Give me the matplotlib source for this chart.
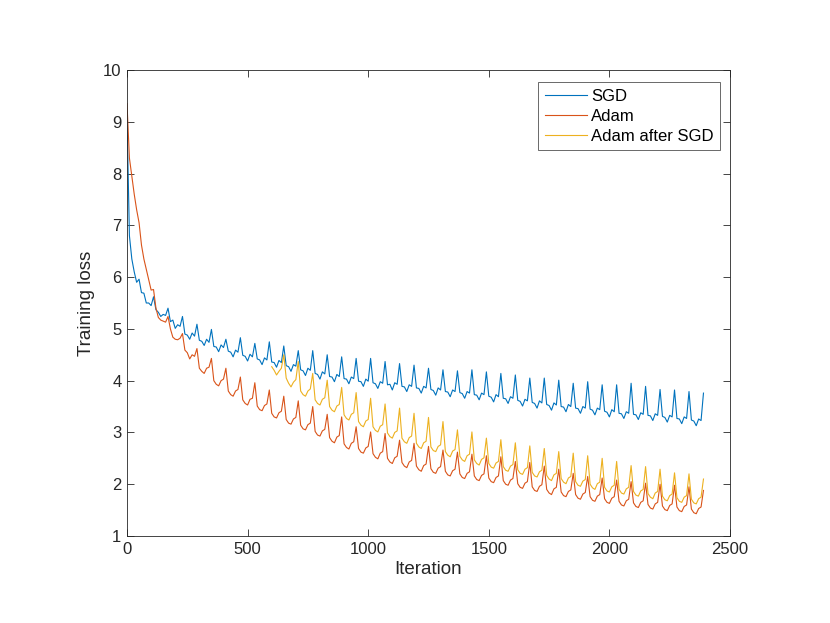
import matplotlib
matplotlib.use("Agg")
import matplotlib.pyplot as plt
import numpy as np

plt.rcParams['font.family'] = ['Liberation Sans', 'DejaVu Sans']

# iterations: one point every 10 iterations, 0..2390
iterations = list(range(0, 2400, 10))

sgd_loss = [
    9.10, 6.80, 6.35, 6.10, 5.90, 5.96,
    5.70, 5.69, 5.50, 5.50, 5.45, 5.62,
    5.37, 5.32, 5.24, 5.28, 5.26, 5.40,
    5.14, 5.17, 5.01, 5.08, 5.05, 5.24,
    4.90, 4.88, 4.80, 4.92, 4.86, 5.09,
    4.78, 4.76, 4.68, 4.80, 4.74, 4.99,
    4.66, 4.65, 4.56, 4.69, 4.64, 4.80,
    4.57, 4.55, 4.46, 4.59, 4.55, 4.83,
    4.49, 4.47, 4.38, 4.51, 4.46, 4.72,
    4.42, 4.40, 4.31, 4.44, 4.40, 4.75,
    4.36, 4.35, 4.26, 4.39, 4.35, 4.67,
    4.29, 4.27, 4.18, 4.31, 4.28, 4.58,
    4.21, 4.19, 4.10, 4.24, 4.20, 4.58,
    4.14, 4.12, 4.03, 4.17, 4.13, 4.50,
    4.08, 4.07, 3.98, 4.12, 4.08, 4.46,
    4.04, 4.03, 3.94, 4.07, 4.04, 4.43,
    3.99, 3.98, 3.89, 4.03, 3.99, 4.43,
    3.96, 3.94, 3.85, 3.98, 3.95, 4.37,
    3.92, 3.93, 3.82, 3.96, 3.93, 4.33,
    3.89, 3.88, 3.79, 3.92, 3.89, 4.30,
    3.86, 3.85, 3.76, 3.89, 3.86, 4.24,
    3.83, 3.81, 3.72, 3.86, 3.82, 4.21,
    3.79, 3.78, 3.69, 3.82, 3.79, 4.19,
    3.77, 3.75, 3.66, 3.79, 3.76, 4.21,
    3.73, 3.72, 3.63, 3.76, 3.73, 4.17,
    3.70, 3.68, 3.59, 3.73, 3.69, 4.14,
    3.66, 3.65, 3.56, 3.69, 3.66, 4.11,
    3.62, 3.60, 3.51, 3.64, 3.61, 4.05,
    3.58, 3.56, 3.47, 3.61, 3.57, 4.05,
    3.54, 3.52, 3.43, 3.57, 3.53, 4.01,
    3.50, 3.49, 3.40, 3.54, 3.50, 3.95,
    3.47, 3.46, 3.37, 3.50, 3.47, 3.98,
    3.45, 3.43, 3.34, 3.47, 3.44, 3.92,
    3.41, 3.39, 3.30, 3.44, 3.40, 3.92,
    3.37, 3.36, 3.27, 3.40, 3.37, 3.95,
    3.35, 3.34, 3.25, 3.38, 3.35, 3.89,
    3.33, 3.32, 3.23, 3.36, 3.33, 3.83,
    3.31, 3.29, 3.20, 3.33, 3.30, 3.82,
    3.27, 3.26, 3.17, 3.30, 3.27, 3.79,
    3.24, 3.22, 3.13, 3.26, 3.23, 3.76,
]

adam_loss = [
    9.35, 8.30, 7.95, 7.60, 7.30, 7.05,
    6.62, 6.35, 6.15, 5.95, 5.75, 5.76,
    5.40, 5.22, 5.17, 5.15, 5.13, 5.24,
    5.00, 4.84, 4.80, 4.79, 4.82, 4.91,
    4.59, 4.54, 4.42, 4.50, 4.47, 4.62,
    4.24, 4.18, 4.14, 4.24, 4.26, 4.43,
    4.00, 3.93, 3.90, 4.00, 4.03, 4.24,
    3.80, 3.73, 3.70, 3.80, 3.83, 4.07,
    3.63, 3.56, 3.53, 3.64, 3.66, 3.96,
    3.51, 3.44, 3.42, 3.52, 3.55, 3.82,
    3.37, 3.30, 3.28, 3.38, 3.41, 3.70,
    3.25, 3.18, 3.16, 3.26, 3.29, 3.61,
    3.14, 3.07, 3.05, 3.15, 3.18, 3.50,
    3.02, 2.95, 2.93, 3.03, 3.06, 3.35,
    2.90, 2.83, 2.80, 2.91, 2.94, 3.30,
    2.78, 2.71, 2.68, 2.79, 2.82, 3.11,
    2.69, 2.62, 2.60, 2.70, 2.73, 3.01,
    2.59, 2.52, 2.49, 2.60, 2.63, 2.98,
    2.50, 2.43, 2.40, 2.51, 2.54, 2.85,
    2.42, 2.35, 2.32, 2.43, 2.46, 2.79,
    2.35, 2.28, 2.25, 2.36, 2.39, 2.73,
    2.30, 2.23, 2.21, 2.31, 2.34, 2.66,
    2.25, 2.18, 2.16, 2.26, 2.29, 2.62,
    2.20, 2.13, 2.11, 2.21, 2.24, 2.58,
    2.16, 2.09, 2.07, 2.17, 2.20, 2.55,
    2.12, 2.05, 2.03, 2.13, 2.16, 2.53,
    2.07, 2.00, 1.98, 2.08, 2.11, 2.44,
    2.01, 1.94, 1.92, 2.02, 2.05, 2.42,
    1.95, 1.88, 1.86, 1.96, 1.99, 2.35,
    1.90, 1.83, 1.80, 1.91, 1.94, 2.29,
    1.85, 1.78, 1.76, 1.86, 1.89, 2.21,
    1.80, 1.73, 1.71, 1.81, 1.84, 2.15,
    1.76, 1.69, 1.67, 1.77, 1.80, 2.12,
    1.72, 1.65, 1.63, 1.73, 1.76, 2.08,
    1.67, 1.60, 1.58, 1.68, 1.71, 2.05,
    1.64, 1.57, 1.55, 1.65, 1.68, 2.02,
    1.61, 1.54, 1.52, 1.62, 1.65, 2.00,
    1.58, 1.51, 1.49, 1.59, 1.62, 1.98,
    1.56, 1.49, 1.47, 1.57, 1.60, 1.95,
    1.52, 1.45, 1.43, 1.53, 1.56, 1.88,
]

# Adam after SGD starts at iteration 600
switch_iters = list(range(600, 2400, 10))
adam_after_sgd_loss = [
    4.27, 4.20, 4.11, 4.18, 4.24, 4.50,
    4.05, 3.95, 3.88, 3.97, 4.02, 4.37,
    3.80, 3.73, 3.70, 3.80, 3.84, 4.14,
    3.63, 3.56, 3.53, 3.64, 3.67, 4.01,
    3.50, 3.43, 3.40, 3.51, 3.54, 3.87,
    3.34, 3.27, 3.24, 3.35, 3.38, 3.77,
    3.21, 3.14, 3.11, 3.22, 3.25, 3.66,
    3.11, 3.04, 3.01, 3.12, 3.15, 3.55,
    2.99, 2.92, 2.89, 3.00, 3.03, 3.47,
    2.89, 2.82, 2.79, 2.90, 2.93, 3.37,
    2.79, 2.72, 2.69, 2.80, 2.83, 3.29,
    2.72, 2.65, 2.63, 2.73, 2.76, 3.21,
    2.63, 2.56, 2.53, 2.64, 2.67, 3.05,
    2.54, 2.47, 2.44, 2.55, 2.58, 3.01,
    2.47, 2.40, 2.37, 2.48, 2.51, 2.89,
    2.40, 2.33, 2.31, 2.41, 2.44, 2.86,
    2.34, 2.27, 2.25, 2.35, 2.38, 2.80,
    2.28, 2.21, 2.19, 2.29, 2.32, 2.74,
    2.23, 2.16, 2.14, 2.24, 2.27, 2.69,
    2.17, 2.10, 2.07, 2.18, 2.21, 2.63,
    2.11, 2.04, 2.01, 2.12, 2.15, 2.60,
    2.05, 1.98, 1.96, 2.06, 2.09, 2.55,
    2.00, 1.93, 1.90, 2.01, 2.04, 2.50,
    1.94, 1.87, 1.85, 1.95, 1.98, 2.44,
    1.90, 1.83, 1.81, 1.91, 1.94, 2.36,
    1.86, 1.79, 1.77, 1.87, 1.90, 2.34,
    1.82, 1.75, 1.72, 1.83, 1.86, 2.29,
    1.77, 1.70, 1.68, 1.78, 1.81, 2.22,
    1.74, 1.67, 1.65, 1.75, 1.78, 2.20,
    1.71, 1.64, 1.62, 1.72, 1.75, 2.10,
]

series_labels = ["SGD", "Adam", "Adam after SGD"]
x_ticks = [0, 500, 1000, 1500, 2000, 2500]
y_ticks = [1, 2, 3, 4, 5, 6, 7, 8, 9, 10]

fig = plt.figure(figsize=(8.30, 6.23), dpi=100)
ax = fig.add_axes([127/830, 1-536/623, (730-127)/830, (536-70)/623])

lw = 0.8
ax.plot(iterations, sgd_loss, color="#0072BD", lw=lw, label=series_labels[0])
ax.plot(iterations, adam_loss, color="#D95319", lw=lw, label=series_labels[1])
ax.plot(switch_iters, adam_after_sgd_loss, color="#EDB120", lw=lw, label=series_labels[2])

ax.set_xlim(0, 2500)
ax.set_ylim(1, 10)
ax.set_xticks(x_ticks)
ax.set_yticks(y_ticks)
ax.tick_params(direction="in", top=True, right=True, length=5, width=0.6,
               colors="#262626", labelsize=12, pad=4)
for s in ax.spines.values():
    s.set_linewidth(0.6)
    s.set_color("#262626")
ax.set_xlabel("Iteration", fontsize=13.5, color="#262626", labelpad=3)
ax.set_ylabel("Training loss", fontsize=13.5, color="#262626", labelpad=6)

leg = ax.legend(loc="upper right", bbox_to_anchor=(720/830, 1-82/623),
                bbox_transform=fig.transFigure, fontsize=12, frameon=True,
                fancybox=False, borderpad=0.4, labelspacing=0.3,
                handlelength=2.5, handletextpad=0.25, borderaxespad=0)
leg.get_frame().set_edgecolor("#262626")
leg.get_frame().set_linewidth(0.6)

fig.savefig("out.png", dpi=100, facecolor="white")
